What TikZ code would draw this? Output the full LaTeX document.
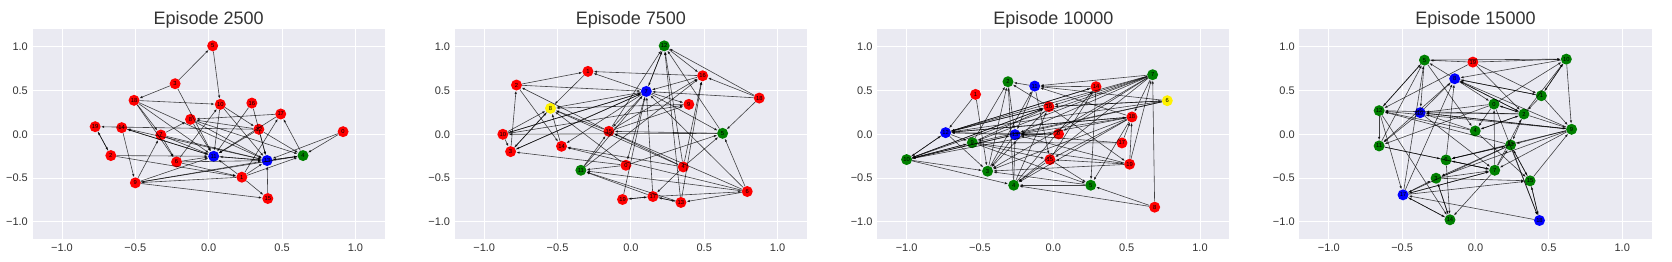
\documentclass[tikz,border=0pt]{standalone}
\usepackage{fontspec}
\setmainfont{Liberation Sans}
\usetikzlibrary{arrows.meta}
\definecolor{axbg}{HTML}{EAEAF2}
\definecolor{ticktext}{HTML}{333333}
\definecolor{netgreen}{HTML}{008000}
\begin{document}
\begin{tikzpicture}[
    >={Latex[length=3.3pt,width=2.5pt]},
    panel/.style={x=146.7pt, y=87.5pt},
    agent/.style={circle, inner sep=0pt, minimum size=11pt, font=\fontsize{5.8}{5.8}\selectfont},
    redag/.style={agent, fill=red},
    blueag/.style={agent, fill=blue},
    greenag/.style={agent, fill=netgreen},
    yellowag/.style={agent, fill=yellow},
    link/.style={->, draw=black, opacity=0.72, line width=0.6pt},
    ticklab/.style={font=\fontsize{11}{11}\selectfont, text=ticktext, inner sep=0pt},
    ttl/.style={font=\fontsize{18}{18}\selectfont, text=ticktext, inner sep=0pt, anchor=base}]
  \useasboundingbox (0,0) rectangle (1672pt,262pt);
  % Axes: background, grid, ticks, titles
  \foreach \cx/\ep in {208.7/2500, 630.9/7500, 1053.3/10000, 1475.5/15000} {
    \begin{scope}[shift={(\cx pt,127.7pt)}, panel]
      \fill[axbg] (-1.2,-1.2) rectangle (1.2,1.2);
      \foreach \v/\lab in {-1/−1.0, -0.5/−0.5, 0/0.0, 0.5/0.5, 1/1.0} {
        \draw[white, line width=0.9pt] (\v,-1.2) -- (\v,1.2);
        \draw[white, line width=0.9pt] (-1.2,\v) -- (1.2,\v);
        \node[ticklab, anchor=north] at ([yshift=-4.7pt]\v,-1.2) {\lab};
        \node[ticklab, anchor=east] at ([xshift=-4.6pt]-1.2,\v) {\lab};
      }
      \node[ttl] at ([yshift=4.7pt]0,1.2) {Episode \ep};
    \end{scope}
  }
  % Panel 1: Episode 2500
  \begin{scope}[shift={(208.7pt,127.7pt)}, panel]
    \node[redag] (a0) at (0.916,0.030) {0};
    \node[redag] (a1) at (0.226,-0.490) {1};
    \node[redag] (a2) at (-0.667,-0.243) {2};
    \node[redag] (a3) at (-0.229,0.578) {3};
    \node[greenag] (a4) at (0.643,-0.243) {4};
    \node[redag] (a5) at (0.027,1.011) {5};
    \node[redag] (a6) at (-0.219,-0.316) {6};
    \node[redag] (a7) at (-0.326,-0.008) {7};
    \node[redag] (a8) at (-0.124,0.171) {8};
    \node[redag] (a9) at (-0.500,-0.555) {9};
    \node[redag] (a10) at (0.079,0.342) {10};
    \node[blueag] (a11) at (0.034,-0.251) {11};
    \node[redag] (a12) at (0.342,0.057) {12};
    \node[blueag] (a13) at (0.398,-0.300) {13};
    \node[redag] (a14) at (-0.593,0.076) {14};
    \node[redag] (a15) at (0.403,-0.734) {15};
    \node[redag] (a16) at (0.294,0.357) {16};
    \node[redag] (a17) at (0.491,0.232) {17};
    \node[redag] (a18) at (-0.509,0.388) {18};
    \node[redag] (a19) at (-0.774,0.087) {19};
    \draw[link] (a3) -- (a5); \draw[link] (a5) -- (a10); \draw[link] (a3) -- (a18); \draw[link] (a3) -- (a11);
    \draw[link] (a18) -- (a10); \draw[link] (a18) -- (a7); \draw[link] (a18) -- (a6); \draw[link] (a18) -- (a11);
    \draw[link] (a18) -- (a13); \draw[link] (a19) -- (a2); \draw[link] (a2) -- (a19); \draw[link] (a12) -- (a19);
    \draw[link] (a13) -- (a14); \draw[link] (a11) -- (a14); \draw[link] (a14) -- (a9); \draw[link] (a9) -- (a7);
    \draw[link] (a7) -- (a8); \draw[link] (a7) -- (a11); \draw[link] (a7) -- (a13); \draw[link] (a2) -- (a11);
    \draw[link] (a2) -- (a1); \draw[link] (a6) -- (a10); \draw[link] (a6) -- (a11); \draw[link] (a6) -- (a13);
    \draw[link] (a9) -- (a11); \draw[link] (a9) -- (a13); \draw[link] (a9) -- (a15); \draw[link] (a1) -- (a9);
    \draw[link] (a9) -- (a4); \draw[link] (a1) -- (a17); \draw[link] (a1) -- (a13); \draw[link] (a1) -- (a4);
    \draw[link] (a1) -- (a11); \draw[link] (a1) -- (a15); \draw[link] (a15) -- (a13); \draw[link] (a16) -- (a11);
    \draw[link] (a16) -- (a13); \draw[link] (a10) -- (a11); \draw[link] (a10) -- (a12); \draw[link] (a10) -- (a13);
    \draw[link] (a17) -- (a8); \draw[link] (a17) -- (a11); \draw[link] (a4) -- (a17); \draw[link] (a0) -- (a4);
    \draw[link] (a0) -- (a13); \draw[link] (a12) -- (a4); \draw[link] (a8) -- (a4); \draw[link] (a8) -- (a13);
    \draw[link] (a8) -- (a11); \draw[link] (a12) -- (a11); \draw[link] (a12) -- (a13); \draw[link] (a13) -- (a11);
    \draw[link] (a11) -- (a13); \draw[link] (a4) -- (a13); \draw[link] (a13) -- (a4); \draw[link] (a14) -- (a11);
    \draw[link] (a6) -- (a1); \draw[link] (a12) -- (a8); \draw[link] (a7) -- (a6);
  \end{scope}
  % Panel 2: Episode 7500
  \begin{scope}[shift={(630.9pt,127.7pt)}, panel]
    \node[redag] (b0) at (-0.034,-0.354) {0};
    \node[redag] (b1) at (-0.293,0.719) {1};
    \node[redag] (b2) at (-0.780,0.563) {2};
    \node[redag] (b3) at (-0.820,-0.198) {3};
    \node[redag] (b4) at (0.357,-0.373) {4};
    \node[greenag] (b5) at (0.625,0.011) {5};
    \node[redag] (b6) at (0.793,-0.654) {6};
    \node[blueag] (b7) at (0.105,0.490) {7};
    \node[yellowag] (b8) at (-0.548,0.297) {8};
    \node[redag] (b9) at (0.395,0.342) {9};
    \node[redag] (b10) at (-0.873,0.0) {10};
    \node[greenag] (b11) at (-0.341,-0.411) {11};
    \node[greenag] (b12) at (0.227,1.011) {12};
    \node[redag] (b13) at (0.341,-0.779) {13};
    \node[redag] (b14) at (-0.473,-0.137) {14};
    \node[redag] (b15) at (-0.150,0.034) {15};
    \node[redag] (b16) at (0.489,0.669) {16};
    \node[redag] (b17) at (0.150,-0.711) {17};
    \node[redag] (b18) at (0.875,0.414) {18};
    \node[redag] (b19) at (-0.057,-0.745) {19};
    \draw[link] (b2) -- (b1); \draw[link] (b1) -- (b8); \draw[link] (b16) -- (b1); \draw[link] (b7) -- (b1);
    \draw[link] (b2) -- (b7); \draw[link] (b15) -- (b2); \draw[link] (b3) -- (b2); \draw[link] (b2) -- (b14);
    \draw[link] (b10) -- (b3); \draw[link] (b10) -- (b8); \draw[link] (b10) -- (b7); \draw[link] (b10) -- (b9);
    \draw[link] (b5) -- (b10); \draw[link] (b3) -- (b8); \draw[link] (b3) -- (b7); \draw[link] (b14) -- (b8);
    \draw[link] (b8) -- (b3); \draw[link] (b0) -- (b3); \draw[link] (b0) -- (b8); \draw[link] (b4) -- (b8);
    \draw[link] (b4) -- (b15); \draw[link] (b4) -- (b14); \draw[link] (b4) -- (b16); \draw[link] (b4) -- (b12);
    \draw[link] (b4) -- (b17); \draw[link] (b4) -- (b5); \draw[link] (b6) -- (b14); \draw[link] (b6) -- (b7);
    \draw[link] (b6) -- (b5); \draw[link] (b6) -- (b11); \draw[link] (b6) -- (b13); \draw[link] (b17) -- (b6);
    \draw[link] (b13) -- (b17); \draw[link] (b17) -- (b13); \draw[link] (b17) -- (b19); \draw[link] (b19) -- (b17);
    \draw[link] (b17) -- (b11); \draw[link] (b13) -- (b11); \draw[link] (b11) -- (b15); \draw[link] (b11) -- (b7);
    \draw[link] (b11) -- (b16); \draw[link] (b19) -- (b7); \draw[link] (b0) -- (b11); \draw[link] (b0) -- (b5);
    \draw[link] (b7) -- (b0); \draw[link] (b17) -- (b7); \draw[link] (b13) -- (b12); \draw[link] (b13) -- (b16);
    \draw[link] (b12) -- (b7); \draw[link] (b7) -- (b12); \draw[link] (b15) -- (b12); \draw[link] (b12) -- (b16);
    \draw[link] (b18) -- (b12); \draw[link] (b18) -- (b16); \draw[link] (b18) -- (b5); \draw[link] (b18) -- (b7);
    \draw[link] (b5) -- (b12); \draw[link] (b7) -- (b9); \draw[link] (b7) -- (b5); \draw[link] (b16) -- (b7);
    \draw[link] (b9) -- (b8); \draw[link] (b7) -- (b8); \draw[link] (b7) -- (b15); \draw[link] (b7) -- (b14);
    \draw[link] (b7) -- (b3); \draw[link] (b15) -- (b8); \draw[link] (b15) -- (b9); \draw[link] (b15) -- (b16);
    \draw[link] (b5) -- (b15); \draw[link] (b7) -- (b10); \draw[link] (b6) -- (b15);
  \end{scope}
  % Panel 3: Episode 10000
  \begin{scope}[shift={(1053.3pt,127.7pt)}, panel]
    \node[redag] (c0) at (0.036,0.004) {0};
    \node[redag] (c1) at (-0.530,0.456) {1};
    \node[greenag] (c2) at (-0.309,0.601) {2};
    \node[greenag] (c3) at (-0.448,-0.422) {3};
    \node[greenag] (c4) at (-0.270,-0.582) {4};
    \node[greenag] (c5) at (0.255,-0.582) {5};
    \node[yellowag] (c6) at (0.777,0.384) {6};
    \node[greenag] (c7) at (0.677,0.681) {7};
    \node[redag] (c8) at (0.691,-0.833) {8};
    \node[greenag] (c9) at (-0.552,-0.095) {9};
    \node[greenag] (c10) at (-1.0,-0.289) {10};
    \node[blueag] (c11) at (-0.127,0.551) {11};
    \node[blueag] (c12) at (-0.734,0.019) {12};
    \node[blueag] (c13) at (-0.261,-0.004) {13};
    \node[redag] (c14) at (0.291,0.544) {14};
    \node[redag] (c15) at (-0.023,-0.289) {15};
    \node[redag] (c16) at (-0.030,0.316) {16};
    \node[redag] (c17) at (0.468,-0.099) {17};
    \node[redag] (c18) at (0.536,0.198) {18};
    \node[redag] (c19) at (0.520,-0.342) {19};
    \draw[link] (c1) -- (c12); \draw[link] (c1) -- (c3); \draw[link] (c10) -- (c12); \draw[link] (c10) -- (c9);
    \draw[link] (c10) -- (c13); \draw[link] (c10) -- (c16); \draw[link] (c10) -- (c4); \draw[link] (c10) -- (c3);
    \draw[link] (c13) -- (c10); \draw[link] (c9) -- (c10); \draw[link] (c16) -- (c10); \draw[link] (c18) -- (c10);
    \draw[link] (c12) -- (c10); \draw[link] (c2) -- (c13); \draw[link] (c11) -- (c2); \draw[link] (c16) -- (c2);
    \draw[link] (c9) -- (c2); \draw[link] (c3) -- (c2); \draw[link] (c4) -- (c2); \draw[link] (c7) -- (c11);
    \draw[link] (c14) -- (c11); \draw[link] (c6) -- (c11); \draw[link] (c18) -- (c11); \draw[link] (c11) -- (c13);
    \draw[link] (c11) -- (c15); \draw[link] (c3) -- (c11); \draw[link] (c12) -- (c3); \draw[link] (c12) -- (c9);
    \draw[link] (c12) -- (c18); \draw[link] (c12) -- (c16); \draw[link] (c12) -- (c14); \draw[link] (c13) -- (c12);
    \draw[link] (c16) -- (c12); \draw[link] (c7) -- (c12); \draw[link] (c18) -- (c12); \draw[link] (c0) -- (c12);
    \draw[link] (c13) -- (c3); \draw[link] (c4) -- (c13); \draw[link] (c9) -- (c15); \draw[link] (c9) -- (c19);
    \draw[link] (c9) -- (c5); \draw[link] (c9) -- (c16); \draw[link] (c7) -- (c16); \draw[link] (c7) -- (c18);
    \draw[link] (c7) -- (c0); \draw[link] (c7) -- (c3); \draw[link] (c7) -- (c4); \draw[link] (c7) -- (c9);
    \draw[link] (c7) -- (c13); \draw[link] (c7) -- (c10); \draw[link] (c8) -- (c7); \draw[link] (c8) -- (c4);
    \draw[link] (c8) -- (c5); \draw[link] (c14) -- (c5); \draw[link] (c18) -- (c5); \draw[link] (c18) -- (c15);
    \draw[link] (c18) -- (c4); \draw[link] (c18) -- (c13); \draw[link] (c18) -- (c3); \draw[link] (c17) -- (c18);
    \draw[link] (c19) -- (c18); \draw[link] (c19) -- (c7); \draw[link] (c17) -- (c9); \draw[link] (c17) -- (c13);
    \draw[link] (c19) -- (c15); \draw[link] (c19) -- (c3); \draw[link] (c19) -- (c13); \draw[link] (c16) -- (c19);
    \draw[link] (c16) -- (c6); \draw[link] (c6) -- (c16); \draw[link] (c6) -- (c12); \draw[link] (c6) -- (c9);
    \draw[link] (c6) -- (c13); \draw[link] (c5) -- (c3); \draw[link] (c5) -- (c4); \draw[link] (c15) -- (c5);
    \draw[link] (c15) -- (c4); \draw[link] (c4) -- (c16); \draw[link] (c4) -- (c14); \draw[link] (c16) -- (c3);
    \draw[link] (c14) -- (c12); \draw[link] (c0) -- (c13); \draw[link] (c13) -- (c0); \draw[link] (c15) -- (c14);
  \end{scope}
  % Panel 4: Episode 15000
  \begin{scope}[shift={(1475.5pt,127.7pt)}, panel]
    \node[greenag] (d0) at (0.126,0.346) {0};
    \node[greenag] (d1) at (0.449,0.441) {1};
    \node[greenag] (d2) at (0.330,0.232) {2};
    \node[greenag] (d3) at (-0.269,-0.502) {3};
    \node[greenag] (d4) at (-0.002,0.038) {4};
    \node[greenag] (d5) at (-0.348,0.848) {5};
    \node[greenag] (d6) at (-0.201,-0.293) {6};
    \node[greenag] (d7) at (0.131,-0.411) {7};
    \node[blueag] (d8) at (-0.142,0.635) {8};
    \node[greenag] (d9) at (0.655,0.057) {9};
    \node[greenag] (d10) at (0.619,0.859) {10};
    \node[greenag] (d11) at (-0.657,-0.133) {11};
    \node[greenag] (d12) at (-0.657,0.270) {12};
    \node[greenag] (d13) at (0.239,-0.122) {13};
    \node[greenag] (d14) at (-0.174,-0.977) {14};
    \node[greenag] (d15) at (0.372,-0.532) {15};
    \node[blueag] (d16) at (-0.377,0.247) {16};
    \node[blueag] (d17) at (-0.494,-0.692) {17};
    \node[blueag] (d18) at (0.436,-0.985) {18};
    \node[redag] (d19) at (-0.018,0.825) {19};
    \draw[link] (d19) -- (d5); \draw[link] (d19) -- (d10); \draw[link] (d5) -- (d10); \draw[link] (d19) -- (d1);
    \draw[link] (d19) -- (d2); \draw[link] (d19) -- (d12); \draw[link] (d10) -- (d1); \draw[link] (d1) -- (d10);
    \draw[link] (d2) -- (d10); \draw[link] (d10) -- (d9); \draw[link] (d0) -- (d10); \draw[link] (d5) -- (d16);
    \draw[link] (d5) -- (d12); \draw[link] (d11) -- (d5); \draw[link] (d17) -- (d5); \draw[link] (d12) -- (d5);
    \draw[link] (d8) -- (d5); \draw[link] (d5) -- (d4); \draw[link] (d8) -- (d0); \draw[link] (d8) -- (d2);
    \draw[link] (d2) -- (d8); \draw[link] (d1) -- (d8); \draw[link] (d9) -- (d8); \draw[link] (d8) -- (d11);
    \draw[link] (d16) -- (d8); \draw[link] (d17) -- (d8); \draw[link] (d6) -- (d8); \draw[link] (d12) -- (d11);
    \draw[link] (d12) -- (d17); \draw[link] (d12) -- (d14); \draw[link] (d16) -- (d11); \draw[link] (d0) -- (d11);
    \draw[link] (d4) -- (d12); \draw[link] (d2) -- (d12); \draw[link] (d9) -- (d12); \draw[link] (d13) -- (d12);
    \draw[link] (d0) -- (d16); \draw[link] (d2) -- (d16); \draw[link] (d4) -- (d16); \draw[link] (d9) -- (d16);
    \draw[link] (d16) -- (d7); \draw[link] (d11) -- (d6); \draw[link] (d11) -- (d7); \draw[link] (d0) -- (d4);
    \draw[link] (d4) -- (d2); \draw[link] (d2) -- (d4); \draw[link] (d0) -- (d2); \draw[link] (d2) -- (d0);
    \draw[link] (d1) -- (d2); \draw[link] (d1) -- (d9); \draw[link] (d2) -- (d9); \draw[link] (d16) -- (d9);
    \draw[link] (d9) -- (d13); \draw[link] (d9) -- (d6); \draw[link] (d9) -- (d3); \draw[link] (d9) -- (d7);
    \draw[link] (d15) -- (d9); \draw[link] (d13) -- (d6); \draw[link] (d6) -- (d13); \draw[link] (d13) -- (d3);
    \draw[link] (d13) -- (d17); \draw[link] (d13) -- (d15); \draw[link] (d15) -- (d13); \draw[link] (d2) -- (d13);
    \draw[link] (d4) -- (d15); \draw[link] (d7) -- (d0); \draw[link] (d7) -- (d2); \draw[link] (d7) -- (d13);
    \draw[link] (d7) -- (d14); \draw[link] (d6) -- (d7); \draw[link] (d7) -- (d6); \draw[link] (d7) -- (d17);
    \draw[link] (d3) -- (d7); \draw[link] (d6) -- (d14); \draw[link] (d3) -- (d14); \draw[link] (d14) -- (d3);
    \draw[link] (d17) -- (d14); \draw[link] (d14) -- (d17); \draw[link] (d17) -- (d3); \draw[link] (d17) -- (d15);
    \draw[link] (d17) -- (d7); \draw[link] (d18) -- (d17); \draw[link] (d18) -- (d15); \draw[link] (d15) -- (d18);
    \draw[link] (d0) -- (d18); \draw[link] (d13) -- (d18); \draw[link] (d3) -- (d15); \draw[link] (d10) -- (d8);
    \draw[link] (d8) -- (d1);
  \end{scope}
\end{tikzpicture}
\end{document}
